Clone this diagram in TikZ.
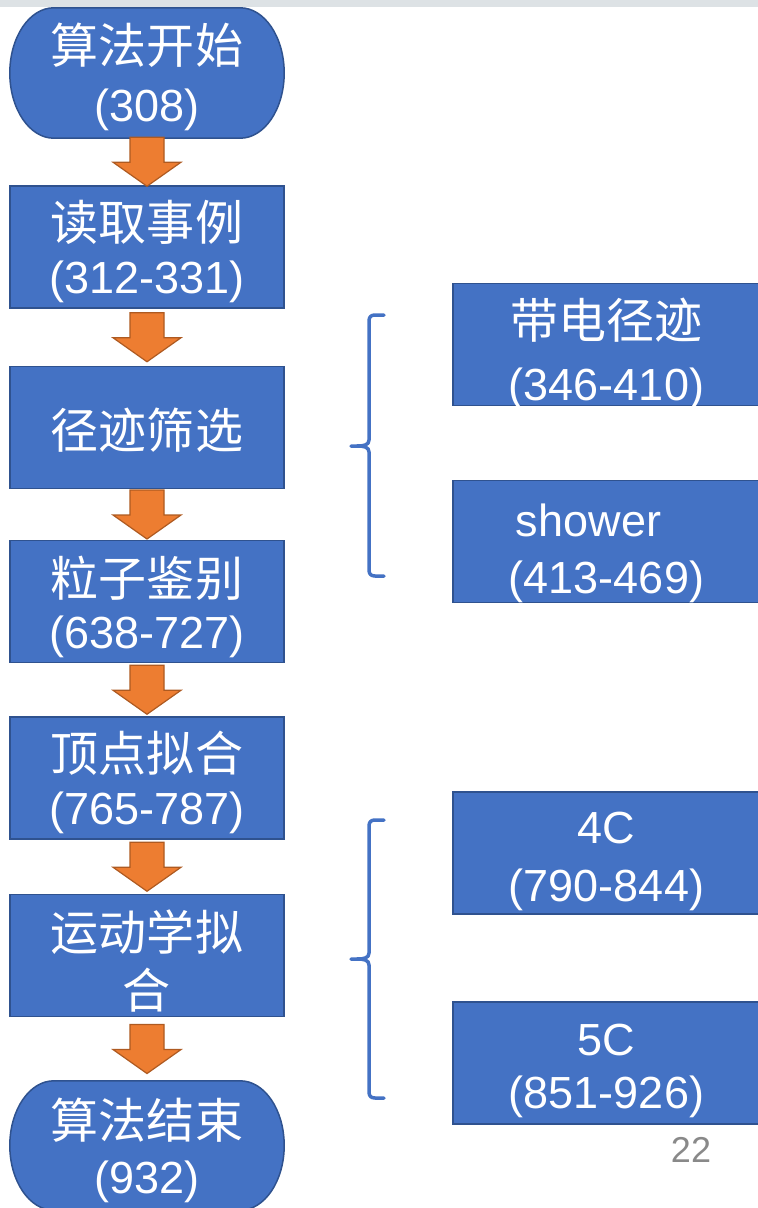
\documentclass[tikz,border=0pt]{standalone}
\usepackage{fontspec}
\setmainfont{Liberation Sans}
\newfontfamily\cjk[Scale=1.0667]{Noto Sans CJK SC}
\usetikzlibrary{calc,backgrounds}
\definecolor{boxblue}{HTML}{4472C4}
\definecolor{boxedge}{HTML}{2F528F}
\definecolor{arrfill}{HTML}{ED7D31}
\definecolor{arredge}{HTML}{AE5A21}
\definecolor{pagegray}{HTML}{898989}
\definecolor{stripgray}{HTML}{DDE2E5}
\tikzset{
  boxtext/.style={inner xsep=0pt, inner ysep=-8pt, text=white, align=center, font=\fontsize{45}{53}\selectfont},
  lsk/.style={font=\fontsize{45}{#1}\selectfont},
  box/.style={boxtext, draw=boxedge, fill=boxblue, line width=1.5pt, minimum width=274pt, minimum height=122pt},
  rbox/.style={box, minimum width=307pt},
  termtext/.style={boxtext, minimum width=274pt, minimum height=130pt},
  termshape/.style={draw=boxedge, fill=boxblue, line width=1.5pt},
  barrow/.style={draw=arredge, fill=arrfill, line width=1.2pt, line join=miter},
  bracket/.style={draw=boxblue, line width=3.5pt, line cap=round, line join=round},
}
% first-line strut height, first line, second line
\newcommand\twotext[3]{\rule{0pt}{#1pt}#2\\#3\rule[-12pt]{0pt}{12pt}}
\newcommand\onetext[2]{\rule{0pt}{#1pt}#2\rule[-12pt]{0pt}{12pt}}
\newcommand\termshape[1]{%
  \path[termshape] let \p1=(#1.north west), \p2=(#1.south east),
    \n1={(\y1+\y2)/2}, \n2={0.5523*(\y1-\y2)/2} in
    ({\x1+44pt},\y1) -- ({\x2-44pt},\y1)
    .. controls ({\x2-19.7pt},\y1) and (\x2,{\n1+\n2}) .. (\x2,\n1)
    .. controls (\x2,{\n1-\n2}) and ({\x2-19.7pt},\y2) .. ({\x2-44pt},\y2)
    -- ({\x1+44pt},\y2)
    .. controls ({\x1+19.7pt},\y2) and (\x1,{\n1-\n2}) .. (\x1,\n1)
    .. controls (\x1,{\n1+\n2}) and ({\x1+19.7pt},\y1) .. cycle;}
\newcommand\flowarrow[2]{%
  \path[barrow] let \p1=($(#1.south)!0.5!(#2.north)$) in
    ({\x1-17pt},{\y1+24.5pt}) -- ({\x1+17pt},{\y1+24.5pt}) -- ({\x1+17pt},{\y1-0.5pt})
    -- ({\x1+34pt},{\y1-0.5pt}) -- (\x1,{\y1-24.5pt}) -- ({\x1-34pt},{\y1-0.5pt})
    -- ({\x1-17pt},{\y1-0.5pt}) -- cycle;}
\begin{document}
\begin{tikzpicture}[x=1pt,y=-1pt]
\useasboundingbox (0,0) rectangle (758,1208);
\fill[stripgray] (0,0) rectangle (758,7);
% left column
\node[termtext, lsk=58.4] (s) at (147,73) {\twotext{51}{\cjk 算法开始}{(308)}};
\node[box, lsk=53.3] (b1) at (147,247) {\twotext{51.3}{\cjk 读取事例}{(312-331)}};
\node[box] (b2) at (147,427.5) {\onetext{53}{\cjk 径迹筛选}};
\node[box, lsk=52.3] (b3) at (147,601.5) {\twotext{53.3}{\cjk 粒子鉴别}{(638-727)}};
\node[box, lsk=53] (b4) at (147,778) {\twotext{51}{\cjk 顶点拟合}{(765-787)}};
\node[box, lsk=58] (b5) at (147,955.5) {\twotext{59}{\cjk 运动学拟}{\cjk 合}};
\node[termtext, lsk=55, minimum height=129pt] (e) at (147,1145.5) {\twotext{52}{\cjk 算法结束}{(932)}};
\begin{scope}[on background layer]
  \termshape{s}
  \termshape{e}
\end{scope}
% arrows
\flowarrow{s}{b1}
\flowarrow{b1}{b2}
\flowarrow{b2}{b3}
\flowarrow{b3}{b4}
\flowarrow{b4}{b5}
\flowarrow{b5}{e}
% right column
\node[rbox, lsk=62] (r1) at (606.5,344.5) {\twotext{61}{\cjk 带电径迹}{(346-410)}};
\node[rbox, lsk=56.6] (r2) at (606.5,541.5) {\twotext{59}{shower\hspace*{36pt}}{(413-469)}};
\node[rbox, lsk=58.4] (r3) at (606.5,853) {\twotext{51}{4C}{(790-844)}};
\node[rbox, lsk=53] (r4) at (606.5,1063) {\twotext{49}{5C}{(851-926)}};
% braces
\draw[bracket] (384,315) -- (375,315) .. controls (371,315) and (369,317) .. (369,321)
  -- (369,440) .. controls (369,445) and (364,446) .. (357,446) -- (351,446);
\draw[bracket] (357,446) .. controls (364,446) and (369,447) .. (369,452)
  -- (369,570) .. controls (369,574) and (371,576) .. (375,576) -- (384,576);
\draw[bracket] (384,820) -- (375,820) .. controls (371,820) and (369,822) .. (369,826)
  -- (369,953) .. controls (369,958) and (364,959) .. (357,959) -- (351,959);
\draw[bracket] (357,959) .. controls (364,959) and (369,960) .. (369,965)
  -- (369,1092) .. controls (369,1096) and (371,1098) .. (375,1098) -- (384,1098);
% page number
\node[text=pagegray, font=\fontsize{36}{36}\selectfont, inner sep=0pt] (pg) at (691,1150) {22};
\end{tikzpicture}
\end{document}
